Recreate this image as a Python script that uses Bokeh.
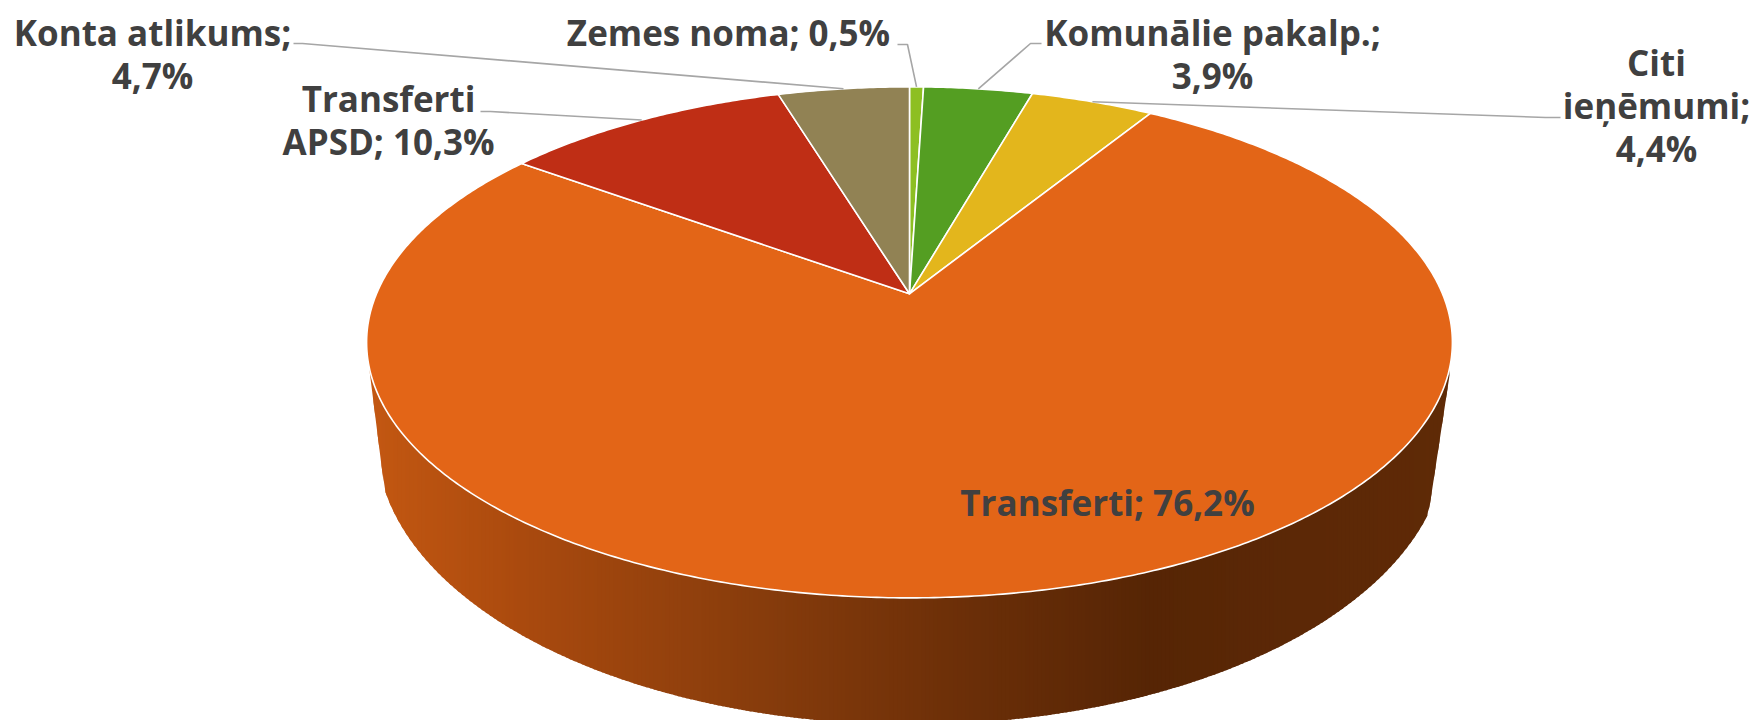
import math
from bokeh.plotting import figure
from bokeh.models import Range1d
from bokeh.core.properties import value
from bokeh.embed import file_html
from bokeh.resources import INLINE

categories = ["Zemes noma", "Komunālie pakalp.", "Citi ieņēmumi", "Transferti", "Transferti APSD", "Konta atlikums"]
shares = [0.5, 3.9, 4.4, 76.2, 10.3, 4.7]
colors = ["#8DBF22", "#549E22", "#E3B61C", "#E36517", "#BF2E15", "#918254"]

label_lines = [
    (["Zemes noma; 0,5%"], 728, 32),
    (["Komunālie pakalp.;", "3,9%"], 1212, 32),
    (["Citi", "ieņēmumi;", "4,4%"], 1656, 62),
    (["Transferti; 76,2%"], 1107, 502),
    (["Transferti", "APSD; 10,3%"], 388, 98),
    (["Konta atlikums;", "4,7%"], 152, 32),
]
# leader start points (label side) per category index
leaders = {
    0: [(897, 44), (907, 44)],
    1: [(1041, 43), (1030, 43)],
    2: [(1560, 117), (1545, 117)],
    4: [(480, 111), (490, 111)],
    5: [(293, 43), (302, 43)],
}

FONT = "Open Sans"
FONT_SIZE = "35px"
LINE_GAP = 43
TEXT = "#404040"

# perspective of the pie's top face
CX, CY, R, B, K = 909.0, 293.3, 533.0, 246.3, 0.19
# ellipses of the top and bottom rims (for the side wall)
TOP = (909.0, 341.5, 543.0, 255.5)
BOT = (911.0, 440.0, 535.0, 284.0)


def project(deg):
    t = math.radians(deg)
    w = 1 + K * math.cos(t)
    return CX + R * math.sin(t) / w, CY - B * math.cos(t) / w


W, H = 1757, 720
p = figure(width=W, height=H, x_range=Range1d(0, W), y_range=Range1d(H, 0),
           output_backend="svg", toolbar_location=None, min_border=0,
           background_fill_color="white", border_fill_color="white", outline_line_color=None)
p.axis.visible = False
p.grid.visible = False


def ell_y(e, x):
    cx, cy, rx, ry = e
    u = (x - cx) / rx
    return cy + ry * math.sqrt(max(0.0, 1 - u * u))


# Side wall: vertical strips with a horizontal shading ramp
stops = [(366, (196, 88, 18)), (520, (170, 74, 14)), (760, (135, 60, 12)), (960, (108, 47, 8)),
         (1150, (86, 37, 5)), (1300, (92, 40, 6)), (1452, (95, 42, 6))]


def ramp(x):
    for (a, ca), (b, cb) in zip(stops, stops[1:]):
        if x <= b:
            f = max(0.0, (x - a) / (b - a))
            return "#%02x%02x%02x" % tuple(round(i + (j - i) * f) for i, j in zip(ca, cb))
    return "#%02x%02x%02x" % stops[-1][1]


LEFT_TOP = (369.0, 370.0)
LEFT_BOT = (384.0, ell_y(BOT, 384.0))
RIGHT_TOP = (1449.0, 375.0)
RIGHT_BOT = (1428.0, ell_y(BOT, 1428.0))


def low_y(x):
    if x < LEFT_BOT[0]:
        return LEFT_TOP[1] + (x - LEFT_TOP[0]) / (LEFT_BOT[0] - LEFT_TOP[0]) * (LEFT_BOT[1] - LEFT_TOP[1])
    if x > RIGHT_BOT[0]:
        return RIGHT_TOP[1] + (RIGHT_TOP[0] - x) / (RIGHT_TOP[0] - RIGHT_BOT[0]) * (RIGHT_BOT[1] - RIGHT_TOP[1])
    return ell_y(BOT, x)


# strips overlap their right neighbour, and are painted left to right, so no seams show
sx, sy, sc = [], [], []
STEP = 4
x = LEFT_TOP[0]
while x < RIGHT_TOP[0]:
    x2 = min(x + STEP, RIGHT_TOP[0])
    x3 = min(x2 + 2, RIGHT_TOP[0])
    sx.append([x, x2, x3, x3, x2, x])
    sy.append([ell_y(TOP, x) - 3, ell_y(TOP, x2) - 3, ell_y(TOP, x3) - 3, low_y(x3), low_y(x2), low_y(x)])
    sc.append(ramp((x + x2) / 2))
    x = x2
p.patches(sx, sy, fill_color=sc, line_color=None)

# Top face wedges
xs, ys, mids = [], [], []
cum = 0.0
for s in shares:
    a0, a1 = cum * 3.6, (cum + s) * 3.6
    n = max(2, int((a1 - a0) * 2))
    pts = [project(a0 + (a1 - a0) * i / n) for i in range(n + 1)]
    xs.append([CX] + [q[0] for q in pts])
    ys.append([CY] + [q[1] for q in pts])
    mids.append((a0 + a1) / 2)
    cum += s
p.patches(xs, ys, fill_color=colors, line_color="white", line_width=1.6, line_join="round")

# Leader lines
for i, start in leaders.items():
    end = project(mids[i])
    p.line([q[0] for q in start] + [end[0]], [q[1] for q in start] + [end[1]],
           line_color="#A6A6A6", line_width=1.6)

# Labels
tx, ty, tt = [], [], []
for lines, lx, ly in label_lines:
    for j, line in enumerate(lines):
        tx.append(lx)
        ty.append(ly + j * LINE_GAP)
        tt.append(line)
p.text(x=tx, y=ty, text=tt, text_font=value(FONT), text_font_style="bold", text_font_size=value(FONT_SIZE),
       text_color=TEXT, text_align="center", text_baseline="middle")

open("out.html", "w").write(file_html(p, INLINE))
